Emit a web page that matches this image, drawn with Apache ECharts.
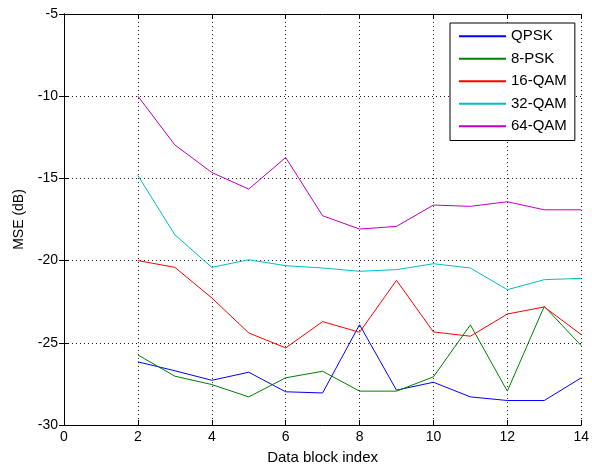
<!DOCTYPE html>
<html>
<head>
<meta charset="utf-8">
<script src="https://cdn.jsdelivr.net/npm/echarts@6/dist/echarts.min.js"></script>
<style>
html,body{margin:0;padding:0;background:#fff;}
#c{width:592px;height:473px;}
</style>
</head>
<body>
<div id="c"></div>
<script>
const blockIndex = [2, 3, 4, 5, 6, 7, 8, 9, 10, 11, 12, 13, 14];
const qpsk  = [-26.16, -26.7, -27.28, -26.79, -27.98, -28.05, -23.9, -27.88, -27.4, -28.29, -28.51, -28.51, -27.13];
const psk8  = [-25.74, -27.03, -27.54, -28.29, -27.13, -26.73, -27.94, -27.94, -27.07, -23.91, -27.94, -22.78, -25.17];
const qam16 = [-20.0, -20.41, -22.27, -24.4, -25.31, -23.71, -24.36, -21.2, -24.34, -24.6, -23.25, -22.82, -24.5];
const qam32 = [-14.82, -18.43, -20.41, -19.95, -20.31, -20.45, -20.65, -20.55, -20.19, -20.45, -21.77, -21.16, -21.08];
const qam64 = [-10.0, -12.96, -14.64, -15.65, -13.73, -17.27, -18.08, -17.92, -16.62, -16.7, -16.42, -16.91, -16.91];
const seriesNames = ['QPSK', '8-PSK', '16-QAM', '32-QAM', '64-QAM'];
const seriesColors = ['#0000FF', '#008000', '#FF0000', '#00BFBF', '#BF00BF'];
const seriesValues = [qpsk, psk8, qam16, qam32, qam64];
const xName = 'Data block index';
const yName = 'MSE (dB)';

const FONT = '"Liberation Sans", Arial, sans-serif';
const chart = echarts.init(document.getElementById('c'), null, {renderer: 'canvas'});

const tickStyle = {show: true, inside: true, length: 5, lineStyle: {color: '#000', width: 1}};
const lineStyle = {show: true, lineStyle: {color: '#000', width: 1}};
const gridLine = {show: true, lineStyle: {color: '#222', width: 1, type: [1, 3]}};

chart.setOption({
  animation: false,
  backgroundColor: '#fff',
  grid: {left: 64, right: 7, top: 14, bottom: 48, containLabel: false},
  legend: {
    orient: 'vertical',
    left: 450, top: 23,
    padding: [2, 8, 3, 9],
    itemGap: 0,
    itemWidth: 47, itemHeight: 2,
    icon: 'rect',
    borderColor: '#000', borderWidth: 1,
    backgroundColor: '#fff',
    textStyle: {fontFamily: FONT, fontSize: 15, color: '#000', lineHeight: 22.5},
    data: seriesNames
  },
  xAxis: [{
    type: 'value', min: 0, max: 14, interval: 2,
    position: 'bottom',
    name: xName, nameLocation: 'middle', nameGap: 25,
    nameTextStyle: {fontFamily: FONT, fontSize: 15, color: '#000'},
    axisLine: lineStyle, axisTick: tickStyle,
    axisLabel: {fontFamily: FONT, fontSize: 14, color: '#000', margin: 5},
    splitLine: gridLine
  }, {
    type: 'value', min: 0, max: 14, interval: 2,
    position: 'top',
    axisLine: lineStyle, axisTick: tickStyle,
    axisLabel: {show: false}, splitLine: {show: false}
  }],
  yAxis: [{
    type: 'value', min: -30, max: -5, interval: 5,
    position: 'left',
    name: yName, nameLocation: 'middle', nameGap: 38,
    nameTextStyle: {fontFamily: FONT, fontSize: 14, color: '#000'},
    axisLine: lineStyle, axisTick: tickStyle,
    axisLabel: {fontFamily: FONT, fontSize: 14, color: '#000', margin: 6},
    splitLine: gridLine
  }, {
    type: 'value', min: -30, max: -5, interval: 5,
    position: 'right',
    axisLine: lineStyle, axisTick: tickStyle,
    axisLabel: {show: false}, splitLine: {show: false}
  }],
  series: seriesNames.map((n, i) => ({
    name: n,
    type: 'line',
    xAxisIndex: 0, yAxisIndex: 0,
    data: blockIndex.map((x, j) => [x, seriesValues[i][j]]),
    showSymbol: false, symbol: 'none',
    lineStyle: {color: seriesColors[i], width: 1},
    itemStyle: {color: seriesColors[i]},
    z: 3
  }))
});
</script>
</body>
</html>
